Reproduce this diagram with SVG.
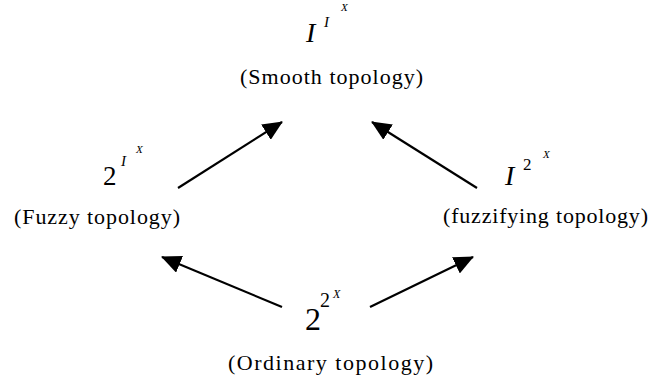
<svg xmlns="http://www.w3.org/2000/svg" width="651" height="380" viewBox="0 0 651 380">
<defs>
<style>
.lbl{font-family:"Liberation Serif","Times New Roman",serif;font-size:22px;fill:#000}
.m{font-family:"Liberation Serif","Times New Roman",serif;fill:#000}
.i{font-style:italic}
.edge{stroke:#000;stroke-width:2.2;fill:none}
</style>
<marker id="ah" markerUnits="userSpaceOnUse" markerWidth="20" markerHeight="18" viewBox="0 0 20 18" refX="19" refY="9" orient="auto">
<path d="M0,0 L20,9 L0,18 Z" fill="#000"/>
</marker>
</defs>
<rect width="651" height="380" fill="#fff"/>
<g id="smooth">
<text class="m i" x="306" y="42" font-size="28">I</text>
<text class="m i" x="324" y="27" font-size="15">I</text>
<text class="m i" x="341" y="11" font-size="11">X</text>
<text class="lbl" x="240" y="84" textLength="183" lengthAdjust="spacing">(Smooth topology)</text>
</g>
<g id="fuzzy">
<text class="m" x="103" y="185" font-size="27">2</text>
<text class="m i" x="121" y="166" font-size="15">I</text>
<text class="m i" x="136" y="153" font-size="11">X</text>
<text class="lbl" x="14" y="224" textLength="166" lengthAdjust="spacing">(Fuzzy topology)</text>
</g>
<g id="fuzzifying">
<text class="m i" x="505" y="185" font-size="28">I</text>
<text class="m" x="523" y="170" font-size="17">2</text>
<text class="m i" x="543" y="158" font-size="11">X</text>
<text class="lbl" x="443" y="223" textLength="205" lengthAdjust="spacing">(fuzzifying topology)</text>
</g>
<g id="ordinary">
<text class="m" x="305" y="330" font-size="32">2</text>
<text class="m" x="320" y="307" font-size="20">2</text>
<text class="m i" x="333" y="298" font-size="12">X</text>
<text class="lbl" x="228" y="370" textLength="205" lengthAdjust="spacing">(Ordinary topology)</text>
</g>
<g id="connectors">
<line class="edge" x1="178" y1="188" x2="282" y2="122" marker-end="url(#ah)"/>
<line class="edge" x1="477" y1="188" x2="372" y2="122" marker-end="url(#ah)"/>
<line class="edge" x1="282" y1="307" x2="162" y2="257" marker-end="url(#ah)"/>
<line class="edge" x1="370" y1="307" x2="473" y2="257" marker-end="url(#ah)"/>
</g>
</svg>
